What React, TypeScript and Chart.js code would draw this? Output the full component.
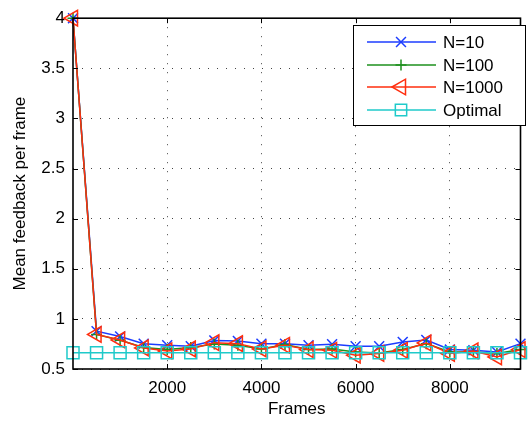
import React, { useEffect, useRef } from 'react';
import { Chart, registerables } from 'chart.js';

Chart.register(...registerables);

const frames = [0, 500, 1000, 1500, 2000, 2500, 3000, 3500, 4000, 4500, 5000, 5500, 6000, 6500, 7000, 7500, 8000, 8500, 9000, 9500];
const n10 = [4, 0.878, 0.825, 0.753, 0.737, 0.727, 0.785, 0.78, 0.753, 0.753, 0.737, 0.747, 0.727, 0.727, 0.77, 0.79, 0.694, 0.687, 0.67, 0.753];
const n100 = [4, 0.845, 0.786, 0.714, 0.694, 0.714, 0.75, 0.737, 0.70, 0.745, 0.694, 0.70, 0.67, 0.66, 0.694, 0.753, 0.67, 0.67, 0.655, 0.694];
const n1000 = [4, 0.845, 0.79, 0.71, 0.68, 0.70, 0.763, 0.753, 0.70, 0.737, 0.694, 0.687, 0.638, 0.655, 0.687, 0.76, 0.655, 0.68, 0.62, 0.694];
const optimal = [0.661, 0.661, 0.661, 0.661, 0.661, 0.661, 0.661, 0.661, 0.661, 0.661, 0.661, 0.661, 0.661, 0.661, 0.661, 0.661, 0.661, 0.661, 0.661, 0.661];
const xTicks = [2000, 4000, 6000, 8000];
const yTicks = [0.5, 1, 1.5, 2, 2.5, 3, 3.5, 4];
const seriesNames = ['N=10', 'N=100', 'N=1000', 'Optimal'];

const FONT = "'Liberation Sans', Arial, Helvetica, sans-serif";
const BLUE = '#1c3cff';
const GREEN = '#1e901e';
const RED = '#ff2e0e';
const CYAN = '#1fcaca';
const LW = 1.5;

function drawMarker(ctx: CanvasRenderingContext2D, style: string, x: number, y: number, r: number, color: string) {
  ctx.save();
  ctx.strokeStyle = color;
  ctx.lineWidth = LW;
  ctx.beginPath();
  if (style === 'crossRot') {
    const o = r * Math.SQRT1_2;
    ctx.moveTo(x - o, y - o); ctx.lineTo(x + o, y + o);
    ctx.moveTo(x - o, y + o); ctx.lineTo(x + o, y - o);
  } else if (style === 'cross') {
    ctx.moveTo(x - r, y); ctx.lineTo(x + r, y);
    ctx.moveTo(x, y - r); ctx.lineTo(x, y + r);
  } else if (style === 'triLeft') {
    ctx.moveTo(x - r, y);
    ctx.lineTo(x + r * 0.5, y - r * Math.sqrt(3) / 2);
    ctx.lineTo(x + r * 0.5, y + r * Math.sqrt(3) / 2);
    ctx.closePath();
  } else if (style === 'rect') {
    const s = r * Math.SQRT1_2;
    ctx.rect(x - s, y - s, 2 * s, 2 * s);
  }
  ctx.stroke();
  ctx.restore();
}

const frameAndLegend = {
  id: 'frameAndLegend',
  afterDraw(chart: any) {
    const { ctx, chartArea: a, scales } = chart;
    ctx.save();
    ctx.strokeStyle = '#000';
    ctx.lineWidth = 1;
    const tl = 5;
    ctx.beginPath();
    xTicks.forEach((v) => {
      const px = Math.round(scales.x.getPixelForValue(v)) + 0.5;
      ctx.moveTo(px, a.bottom); ctx.lineTo(px, a.bottom - tl);
      ctx.moveTo(px, a.top); ctx.lineTo(px, a.top + tl);
    });
    yTicks.forEach((v) => {
      const py = Math.round(scales.y.getPixelForValue(v)) + 0.5;
      ctx.moveTo(a.left, py); ctx.lineTo(a.left + tl, py);
      ctx.moveTo(a.right, py); ctx.lineTo(a.right - tl, py);
    });
    ctx.stroke();
    ctx.lineWidth = 1.6;
    ctx.strokeRect(a.left, a.top, a.right - a.left, a.bottom - a.top);

    const lx = 353, ly = 25, lw = 172, lh = 100;
    ctx.fillStyle = '#fff';
    ctx.fillRect(lx, ly, lw, lh);
    ctx.lineWidth = 1;
    ctx.strokeStyle = '#000';
    ctx.strokeRect(lx + 0.5, ly + 0.5, lw, lh);
    const colors = [BLUE, GREEN, RED, CYAN];
    const styles = ['crossRot', 'cross', 'triLeft', 'rect'];
    const radii = [7, 5.5, 9, 8];
    ctx.font = `17px ${FONT}`;
    ctx.textBaseline = 'middle';
    ctx.textAlign = 'left';
    seriesNames.forEach((name, i) => {
      const y = Math.round(ly + 17 + i * 22.5);
      ctx.strokeStyle = colors[i];
      ctx.lineWidth = LW;
      ctx.beginPath();
      ctx.moveTo(367, y); ctx.lineTo(436, y);
      ctx.stroke();
      drawMarker(ctx, styles[i], 401, y, radii[i], colors[i]);
      ctx.fillStyle = '#000';
      ctx.fillText(name, 443, y + 1);
    });
    ctx.restore();
  },
};

export default function App() {
  const ref = useRef<HTMLCanvasElement | null>(null);
  useEffect(() => {
    if (!ref.current) return;
    const mk = (vals: number[]) => frames.map((x, i) => ({ x, y: vals[i] }));
    const common = { borderWidth: LW, pointBorderWidth: LW, pointBackgroundColor: 'transparent', clip: false, tension: 0 };
    const chart = new Chart(ref.current, {
      type: 'line',
      data: {
        datasets: [
          { ...common, label: seriesNames[0], data: mk(n10), borderColor: BLUE, pointStyle: 'crossRot', pointRadius: 7, pointBorderColor: BLUE, order: 3 },
          { ...common, label: seriesNames[1], data: mk(n100), borderColor: GREEN, pointStyle: 'cross', pointRadius: 5.5, pointBorderColor: GREEN, order: 2 },
          { ...common, label: seriesNames[2], data: mk(n1000), borderColor: RED, pointStyle: 'triangle', pointRotation: -90, pointRadius: 9, pointBorderColor: RED, order: 1 },
          { ...common, label: seriesNames[3], data: mk(optimal), borderColor: CYAN, pointStyle: 'rect', pointRadius: 8.5, pointBorderColor: CYAN, order: 0 },
        ],
      } as any,
      options: {
        animation: false,
        responsive: false,
        devicePixelRatio: 1,
        layout: { padding: { top: 14, right: 3, left: 0, bottom: 0 } },
        plugins: { legend: { display: false }, tooltip: { enabled: false } },
        scales: {
          x: {
            type: 'linear', min: 0, max: 9500,
            afterBuildTicks: (s: any) => { s.ticks = xTicks.map((v) => ({ value: v })); },
            afterFit: (s: any) => { s.height = 54; },
            ticks: { color: '#000', font: { family: FONT, size: 17 }, padding: 9, callback: (v: any) => String(v) },
            grid: { color: '#444', lineWidth: 1, drawTicks: false },
            border: { display: false, dash: [1, 8] },
            title: { display: true, text: 'Frames', color: '#000', font: { family: FONT, size: 17 }, padding: { top: 0, bottom: 3 } },
          },
          y: {
            type: 'linear', min: 0.5, max: 4,
            afterBuildTicks: (s: any) => { s.ticks = yTicks.map((v) => ({ value: v })); },
            afterFit: (s: any) => { s.width = 73; },
            ticks: { color: '#000', font: { family: FONT, size: 17 }, padding: 8, callback: (v: any) => String(v) },
            grid: { color: '#444', lineWidth: 1, drawTicks: false },
            border: { display: false, dash: [1, 8] },
            title: { display: true, text: 'Mean feedback per frame', color: '#000', font: { family: FONT, size: 17 }, padding: { top: 10, bottom: 0 } },
          },
        },
      } as any,
      plugins: [frameAndLegend],
    });
    return () => chart.destroy();
  }, []);
  return (
    <div style={{ position: 'absolute', left: 0, top: 0, width: 531, height: 423, background: '#fff' }}>
      <canvas ref={ref} width={531} height={423} style={{ display: 'block' }} />
    </div>
  );
}
